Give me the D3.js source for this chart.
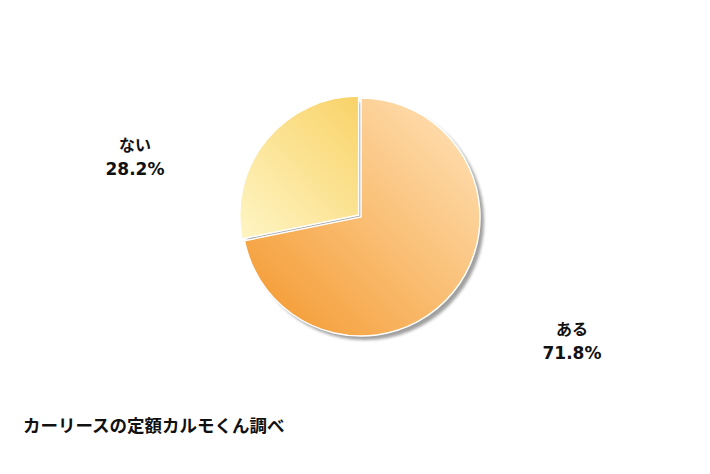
<!DOCTYPE html>
<html>
<head>
<meta charset="utf-8">
<script src="https://cdn.jsdelivr.net/npm/d3@7"></script>
<style>
  body { margin: 0; background: #fff; }
  text { font-family: "Noto Sans CJK JP", "DejaVu Sans", sans-serif; font-weight: 700; fill: #111; }
  text.pct { font-family: "DejaVu Sans", sans-serif; }
</style>
</head>
<body>
<svg id="grafico"></svg>
<script>
// dados do gráfico
const categorias = ['ある', 'ない'];
const valores = [71.8, 28.2];
const rotulosPct = ['71.8%', '28.2%'];
const fonte = 'カーリースの定額カルモくん調べ';

const largura = 710, altura = 474;
const svg = d3.select('#grafico').attr('width', largura).attr('height', altura);

const centro = { x: 361, y: 217 };
const raio = 119;

const defs = svg.append('defs');

// gradientes das fatias
const gradAru = defs.append('linearGradient').attr('id', 'gAru')
  .attr('x1', '85%').attr('y1', '10%').attr('x2', '10%').attr('y2', '85%');
gradAru.append('stop').attr('offset', '0%').attr('stop-color', '#fedbaa');
gradAru.append('stop').attr('offset', '100%').attr('stop-color', '#f5a03c');

const gradNai = defs.append('linearGradient').attr('id', 'gNai')
  .attr('x1', '90%').attr('y1', '0%').attr('x2', '10%').attr('y2', '95%');
gradNai.append('stop').attr('offset', '0%').attr('stop-color', '#f9d46c');
gradNai.append('stop').attr('offset', '100%').attr('stop-color', '#fef3be');

const sombra = defs.append('filter').attr('id', 'sombra')
  .attr('x', '-20%').attr('y', '-20%').attr('width', '140%').attr('height', '140%');
sombra.append('feGaussianBlur').attr('stdDeviation', 1.5);

const cores = d3.scaleOrdinal().domain(categorias).range(['url(#gAru)', 'url(#gNai)']);

const pizza = d3.pie().sort(null).value(d => d.valor);
const dados = categorias.map((c, i) => ({ chave: c, valor: valores[i], rotulo: rotulosPct[i] }));
const fatias = pizza(dados);
const arco = d3.arc().innerRadius(0).outerRadius(raio);

const plotagem = svg.append('g')
  .attr('transform', 'translate(' + centro.x + ',' + centro.y + ')');

// sombra cinza
plotagem.append('circle')
  .attr('cx', 4).attr('cy', 4).attr('r', raio)
  .attr('fill', '#8f8f8f')
  .attr('opacity', 0.85)
  .attr('filter', 'url(#sombra)');

// fatias (a menor levemente destacada)
plotagem.selectAll('.fatia').data(fatias).enter().append('path')
  .classed('fatia', true)
  .attr('transform', (d, i) => {
    if (i === 0) return null;
    const meio = (d.startAngle + d.endAngle) / 2;
    const desl = 3;
    return 'translate(' + (Math.sin(meio) * desl) + ',' + (-Math.cos(meio) * desl) + ')';
  })
  .attr('d', arco)
  .attr('fill', d => cores(d.data.chave))
  .attr('stroke', '#fff')
  .attr('stroke-width', 1.5);

// rótulos
const posRotulos = { 'ある': [572, 335], 'ない': [135, 151] };
fatias.forEach(d => {
  const x = posRotulos[d.data.chave][0];
  const y = posRotulos[d.data.chave][1];
  svg.append('text').attr('x', x).attr('y', y)
    .style('text-anchor', 'middle').style('font-size', '16px')
    .text(d.data.chave);
  svg.append('text').classed('pct', true).attr('x', x).attr('y', y + 24)
    .style('text-anchor', 'middle').style('font-size', '17px')
    .text(d.data.rotulo);
});

svg.append('text')
  .attr('x', 23).attr('y', 432)
  .style('font-size', '17.5px')
  .text(fonte);
</script>
</body>
</html>
